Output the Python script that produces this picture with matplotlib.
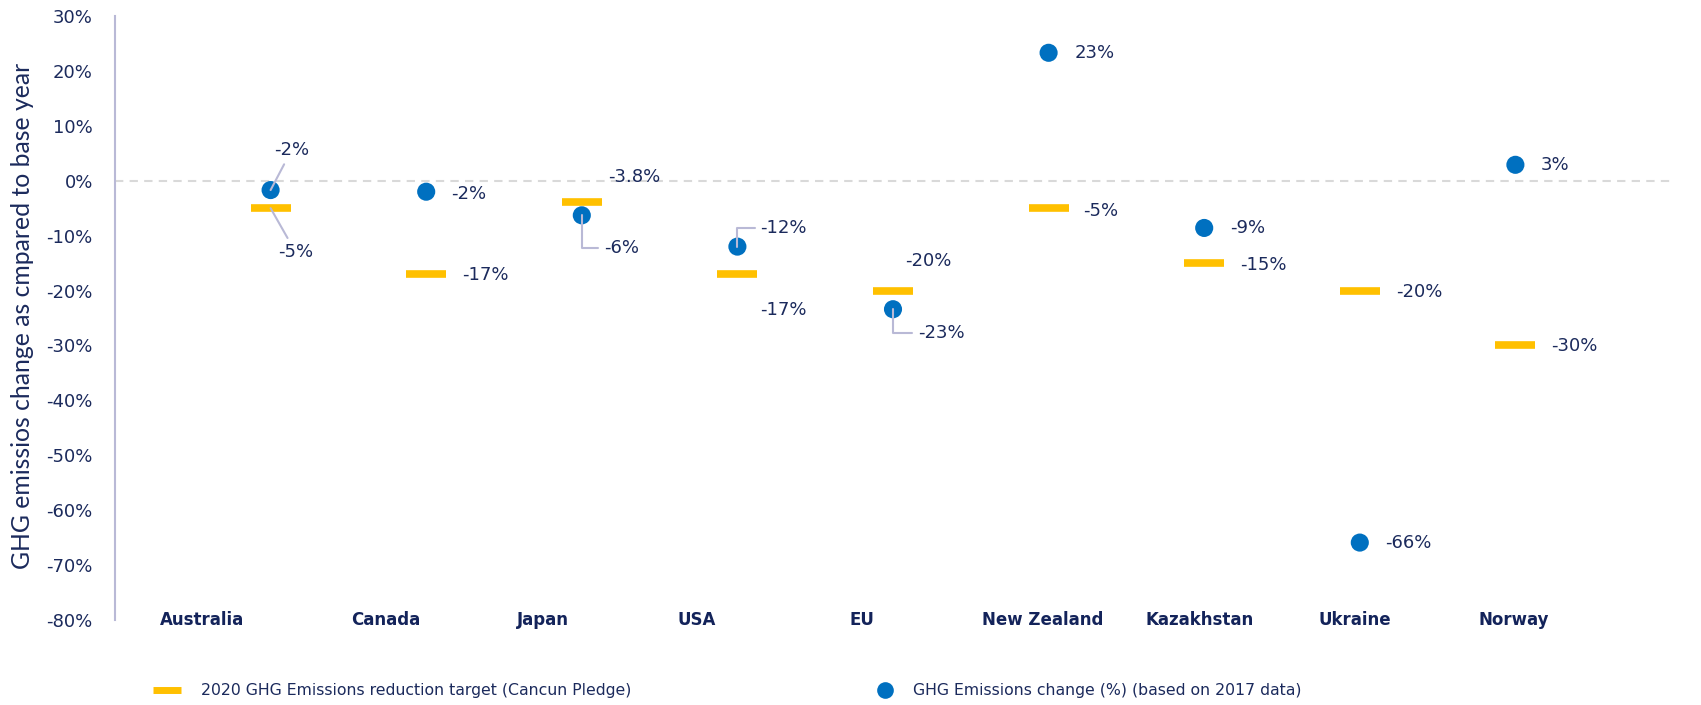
import matplotlib
matplotlib.use("Agg")
from matplotlib import pyplot as plt
from matplotlib.lines import Line2D

countries = ["Australia", "Canada", "Japan", "USA", "EU", "New Zealand", "Kazakhstan", "Ukraine", "Norway"]
target_2020 = [-5, -17, -3.8, -17, -20, -5, -15, -20, -30]
target_labels = ["-5%", "-17%", "-3.8%", "-17%", "-20%", "-5%", "-15%", "-20%", "-30%"]
change_2017 = [-1.7, -2.0, -6.3, -12.0, -23.4, 23.3, -8.6, -65.9, 2.9]
change_labels = ["-2%", "-2%", "-6%", "-12%", "-23%", "23%", "-9%", "-66%", "3%"]
yticks = list(range(-80, 31, 10))

navy = "#1B2A5C"
blue = "#0070C0"
gold = "#FFC000"
lavender = "#B9B9D6"

# label placement, pixels from the mark: (dx, dy, ha, leader)
dot_lab = [(21, 40, "center", "line"), (25, -2, "left", None), (22, -33, "left", "elbow"),
           (23, 19, "left", "elbow"), (25, -24, "left", "elbow"), (26, 0, "left", None),
           (26, 0, "left", None), (25, 0, "left", None), (25, 0, "left", None)]
bar_lab = [(25, -44, "center", "line"), (36, -1, "left", None), (26, 25, "left", None),
           (23, -36, "left", None), (12, 30, "left", None), (35, -3, "left", None),
           (36, -2, "left", None), (36, -1, "left", None), (36, -1, "left", None)]
# category label shift (in category units)
cat_shift = [-0.44, -0.26, -0.25, -0.26, -0.20, -0.04, -0.03, -0.03, -0.01]

fig = plt.figure(figsize=(17.01, 7.05), dpi=100)
ax = fig.add_axes([115/1701, 85/705, 1556/1701, 604/705])

xs = list(range(1, len(countries) + 1))

ax.axhline(0, color="#D9D9D9", linestyle=(0, (4, 3)), linewidth=1.5, zorder=0)
bars, = ax.plot(xs, target_2020, linestyle="none", marker="_", markersize=28.8,
                markeredgewidth=5.5, color=gold, zorder=2)
dots = ax.scatter(xs, change_2017, s=170, color=blue, edgecolors="none", zorder=3)


def add_labels(values, texts, specs):
    for x, v, t, (dx, dy, ha, leader) in zip(xs, values, texts, specs):
        kw = dict(xy=(x, v), xytext=(dx*0.72, dy*0.72), textcoords="offset points",
                  ha=ha, va="center", fontsize=13, color=navy, zorder=5)
        if leader == "line":
            kw["arrowprops"] = dict(arrowstyle="-", color=lavender, lw=1.5, shrinkA=2, shrinkB=0)
        elif leader == "elbow":
            kw["arrowprops"] = dict(arrowstyle="-", color=lavender, lw=1.5, shrinkA=2, shrinkB=0,
                                    relpos=(0, 0.5), connectionstyle="angle,angleA=0,angleB=90,rad=0")
        ax.annotate(t, **kw)


add_labels(change_2017, change_labels, dot_lab)
add_labels(target_2020, target_labels, bar_lab)

for x, name, sh in zip(xs, countries, cat_shift):
    ax.text(x + sh, -80, name, ha="center", va="center", fontsize=12, fontweight="bold",
            color="#13235A", family=["Liberation Sans Narrow", "DejaVu Sans"], clip_on=False)

ax.set_xlim(0, 10)
ax.set_ylim(-80, 30)
ax.set_xticks([])
ax.set_yticks(yticks)
ax.set_yticklabels([f"{t}%" for t in yticks], fontsize=13, color=navy)
ax.tick_params(axis="y", length=0, pad=16)
for s in ("top", "right", "bottom"):
    ax.spines[s].set_visible(False)
ax.spines["left"].set_color(lavender)
ax.spines["left"].set_linewidth(1.5)

fig.text(23/1701, 389/705, "GHG emissios change as cmpared to base year", rotation=90,
         ha="center", va="center", fontsize=17.8, color=navy, family=["Lato", "DejaVu Sans"])

h1 = Line2D([], [], linestyle="none", marker="_", markersize=19.5, markeredgewidth=5, color=gold)
h2 = Line2D([], [], linestyle="none", marker="o", markersize=12, markeredgewidth=0, color=blue)
l1 = fig.legend([h1], ["2020 GHG Emissions reduction target (Cancun Pledge)"], loc="center left",
                bbox_to_anchor=(140/1701, 14/705), frameon=False, fontsize=11.3, labelcolor=navy,
                handlelength=1.6, handletextpad=1.4)
l2 = fig.legend([h2], ["GHG Emissions change (%) (based on 2017 data)"], loc="center left",
                bbox_to_anchor=(861/1701, 14/705), frameon=False, fontsize=11.3, labelcolor=navy,
                handlelength=1.2, handletextpad=1.2)

fig.savefig("out.png", dpi=100)
